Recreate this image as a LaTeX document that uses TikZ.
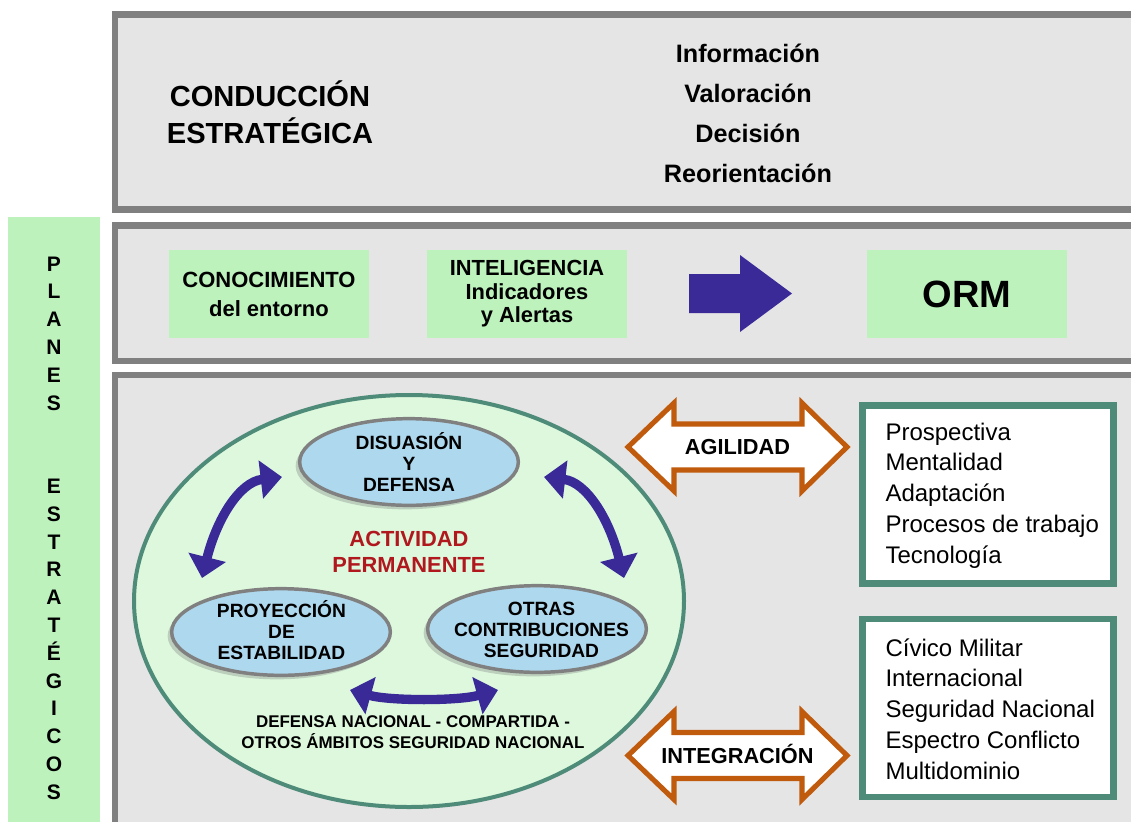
\documentclass[tikz,border=0pt]{standalone}
\usepackage{fontspec}
\setmainfont{Liberation Sans}
\usetikzlibrary{shapes.geometric,arrows.meta,calc,shadows}

\definecolor{framegray}{RGB}{128,128,128}
\definecolor{bandgray}{RGB}{229,229,229}
\definecolor{planesgreen}{RGB}{189,242,189}
\definecolor{ovalgreen}{RGB}{221,248,221}
\definecolor{ovalline}{RGB}{79,139,121}
\definecolor{ovalblue}{RGB}{174,216,238}
\definecolor{arrowpurple}{RGB}{58,42,152}
\definecolor{actred}{RGB}{176,24,30}
\definecolor{arroworange}{RGB}{192,90,12}

\tikzset{every picture/.style={line width=0.75pt},
  band/.style={draw=framegray, fill=bandgray, line width=4.8pt},
  greenbox/.style={fill=planesgreen, minimum width=150pt, minimum height=66pt, inner sep=0pt, align=center},
  titletext/.style={align=center, inner sep=0pt, font=\fontsize{21.8}{27.75}\selectfont\bfseries},
  cycletext/.style={anchor=base, inner sep=0pt, font=\fontsize{18.9}{22}\selectfont\bfseries},
  letter/.style={anchor=base, inner sep=0pt, font=\fontsize{15.75}{18}\selectfont\bfseries},
  bigoval/.style={ellipse, draw=ovalline, fill=ovalgreen, line width=3pt, minimum width=412.5pt, minimum height=309pt},
  blueoval/.style={ellipse, draw=framegray, fill=ovalblue, line width=2.6pt, minimum width=164pt, minimum height=65pt,
    drop shadow={shadow xshift=-3pt, shadow yshift=-3pt, opacity=0.35}},
  ovaltext/.style={align=center, inner sep=0pt, font=\fontsize{14.4}{15.75}\selectfont\bfseries},
  redtext/.style={align=center, inner sep=0pt, text=actred, font=\fontsize{16.4}{19.5}\selectfont\bfseries},
  smalltext/.style={align=center, inner sep=0pt, font=\fontsize{12.7}{15.75}\selectfont\bfseries},
  cyclearrow/.style={draw=arrowpurple, line width=7pt, arrows={Triangle[length=16pt,width=28pt]-Triangle[length=16pt,width=28pt]}},
  blockarrow/.style={draw=arroworange, fill=white, line width=3.8pt, line join=miter},
  arrowtext/.style={inner sep=0pt, text height=11.7pt, text depth=0pt, font=\fontsize{16.3}{18}\selectfont\bfseries},
  listbox/.style={draw=ovalline, fill=white, line width=4.9pt, minimum width=188.25pt, minimum height=133.5pt},
  listtext/.style={anchor=base west, inner sep=0pt, font=\fontsize{18}{20}\selectfont}
}

\begin{document}
\begin{tikzpicture}[x=0.75pt,y=0.75pt,yscale=-1,xscale=1]
\useasboundingbox (0,0) rectangle (1131,821);
\clip (0,0) rectangle (1131,821);

%Shape: Rectangle
\draw[band] (115,14.5) rectangle (1150,209.5);
%Shape: Rectangle
\draw[band] (115,225.5) rectangle (1150,361);
%Shape: Rectangle
\draw[band] (115,375) rectangle (1150,860);
%Shape: Rectangle
\fill[planesgreen] (8,217) rectangle (100,860);

% Text Node
\node[titletext] (cond) at (270,112) {CONDUCCIÓN\\ESTRATÉGICA};
% Text Node
\foreach \w [count=\i from 0] in {Información,Valoración,Decisión,Reorientación}
  \node[cycletext] (paso\i) at (748,{62+40*\i}) {\w};
% Text Node
\foreach \ch/\i in {P/0,L/1,A/2,N/3,E/4,S/5,E/8,S/9,T/10,R/11,A/12,T/13,É/14,G/15,I/16,C/17,O/18,S/19}
  \node[letter] (letra\i) at (54,{271+27.8*\i}) {\ch};

% Text Node
\node[greenbox, font=\fontsize{16.5}{21.75}\selectfont\bfseries] (conoc) at (269,294) {CONOCIMIENTO\\del entorno};
% Text Node
\node[greenbox, font=\fontsize{16.4}{17.6}\selectfont\bfseries] (intel) at (527,294) {INTELIGENCIA\\Indicadores\\y Alertas};
% Text Node
\node[greenbox, font=\fontsize{28.5}{30}\selectfont\bfseries] (orm) at (967,294) {ORM};
%Shape: Right Arrow
\fill[arrowpurple] (689,274) -- (740,274) -- (740,255) -- (792,293.5) -- (740,332) -- (740,313) -- (689,313) -- cycle;

%Shape: Ellipse
\node[bigoval] (activ) at (409,601) {};
%Shape: Ellipse
\node[blueoval] (disu) at (409,462) {};
\node[blueoval] (proy) at (281,632) {};
\node[blueoval] (otras) at (537,629) {};
% Text Node
\node[ovaltext] (disut) at (409,462) {DISUASIÓN\\Y\\DEFENSA};
\node[ovaltext] (proyt) at (281.5,630) {PROYECCIÓN\\DE\\ESTABILIDAD};
\node[ovaltext] (otrast) at (541.5,630) {OTRAS\\CONTRIBUCIONES\\SEGURIDAD};
\node[redtext] (perm) at (409,552) {ACTIVIDAD\\PERMANENTE};
\node[smalltext] (ambitos) at (413,732) {DEFENSA NACIONAL - COMPARTIDA -\\OTROS ÁMBITOS SEGURIDAD NACIONAL};

%Curve Lines
\draw[cyclearrow] ($(proy)+(-79,-54)$) .. controls ($(proy)+(-64,-114)$) and ($(disu)+(-169,20)$) .. ($(disu)+(-127,15)$);
%Curve Lines
\draw[cyclearrow] ($(otras)+(87,-51)$) .. controls ($(otras)+(72,-111)$) and ($(disu)+(177,20)$) .. ($(disu)+(135,15)$);
%Curve Lines
\draw[cyclearrow] ($(proy)+(69,58)$) .. controls ($(proy)+(109,69)$) and ($(otras)+(-79,72)$) .. ($(otras)+(-39,61)$);

%Shape: Left Right Arrow
\foreach \cy in {447,755.5}
  \draw[blockarrow] (628,\cy) -- (674,{\cy-44}) -- (674,{\cy-23}) -- (802,{\cy-23}) -- (802,{\cy-44}) -- (847,\cy)
    -- (802,{\cy+44}) -- (802,{\cy+23}) -- (674,{\cy+23}) -- (674,{\cy+44}) -- cycle;
% Text Node
\node[arrowtext] (agil) at (737.5,447) {AGILIDAD};
\node[arrowtext] (integ) at (737.5,755.5) {INTEGRACIÓN};

%Shape: Rectangle
\node[listbox] (agilbox) at (988,494.5) {};
\node[listbox] (integbox) at (988,708) {};
% Text Node
\foreach \w [count=\i from 0] in {Prospectiva,Mentalidad,Adaptación,Procesos de trabajo,Tecnología}
  \node[listtext] (rasgo\i) at (885,{440+30.8*\i}) {\w};
\foreach \w [count=\i from 0] in {Cívico Militar,Internacional,Seguridad Nacional,Espectro Conflicto,Multidominio}
  \node[listtext] (ambito\i) at (885,{656+30.8*\i}) {\w};

\end{tikzpicture}
\end{document}
